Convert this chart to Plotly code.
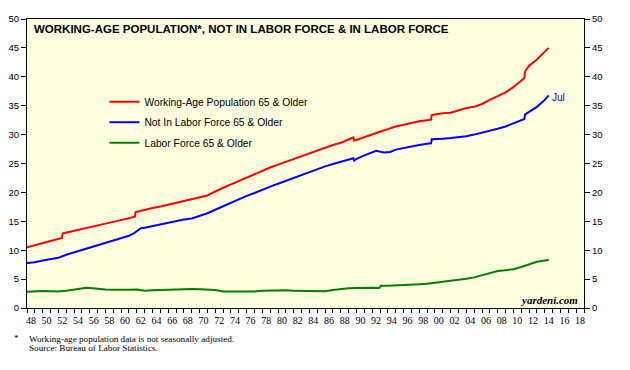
import plotly.graph_objects as go

# ---- data (millions) ----
red_x = [1948.0, 1949.0, 1950.0, 1951.0, 1952.0, 1952.45, 1952.55, 1953.0, 1954.0, 1955.0, 1956.0, 1957.0,
         1958.0, 1959.0, 1960.0, 1961.0, 1961.75, 1961.85, 1963.0, 1964.0, 1965.0, 1966.0, 1967.0, 1968.0,
         1969.0, 1970.0, 1971.0, 1971.3, 1972.0, 1973.0, 1974.0, 1975.0, 1976.0, 1977.0, 1978.0, 1979.0,
         1980.0, 1981.0, 1982.0, 1983.0, 1984.0, 1985.0, 1986.0, 1987.0, 1988.0, 1989.0, 1989.6, 1989.7,
         1990.0, 1991.0, 1992.0, 1993.0, 1994.0, 1995.0, 1996.0, 1997.0, 1998.0, 1999.0, 1999.5, 1999.6,
         2000.0, 2001.0, 2002.0, 2003.0, 2004.0, 2005.0, 2006.0, 2007.0, 2008.0, 2009.0, 2010.0, 2011.0,
         2011.4, 2011.5, 2012.0, 2013.0, 2014.0, 2014.5]
red_y = [10.5, 10.85, 11.2, 11.55, 11.9, 12.1, 12.9, 13.05, 13.35, 13.65, 14.0, 14.3,
         14.6, 14.9, 15.25, 15.55, 15.8, 16.6, 17.0, 17.3, 17.55, 17.85, 18.15, 18.45,
         18.75, 19.1, 19.45, 19.7, 20.2, 20.8, 21.4, 22.0, 22.5, 23.1, 23.7, 24.3,
         24.8, 25.3, 25.8, 26.3, 26.8, 27.2, 27.7, 28.2, 28.6, 29.2, 29.5, 28.95,
         29.1, 29.5, 30.0, 30.5, 30.95, 31.4, 31.7, 32.05, 32.3, 32.5, 32.6, 33.4,
         33.5, 33.7, 33.8, 34.2, 34.6, 34.8, 35.3, 36.0, 36.7, 37.3, 38.2, 39.3,
         39.8, 41.0, 41.9, 43.0, 44.4, 45.0]

blue_x = [1948.0, 1949.0, 1950.0, 1951.0, 1952.0, 1953.0, 1954.0, 1955.0, 1956.0, 1957.0, 1958.0, 1959.0,
          1960.0, 1961.0, 1961.6, 1962.5, 1963.0, 1964.0, 1965.0, 1966.0, 1967.0, 1968.0, 1969.0, 1970.0,
          1971.0, 1972.0, 1973.0, 1974.0, 1975.0, 1976.0, 1977.0, 1978.0, 1979.0, 1980.0, 1981.0, 1982.0,
          1983.0, 1984.0, 1985.0, 1986.0, 1987.0, 1988.0, 1989.0, 1989.6, 1989.7, 1990.0, 1991.0, 1992.0,
          1992.5, 1993.5, 1994.3, 1995.0, 1996.0, 1997.0, 1998.0, 1999.0, 1999.5, 1999.6, 2000.0, 2001.0,
          2002.0, 2003.0, 2004.0, 2005.0, 2006.0, 2007.0, 2008.0, 2009.0, 2010.0, 2011.0, 2011.4, 2011.5,
          2012.0, 2013.0, 2014.0, 2014.5]
blue_y = [7.8, 7.9, 8.2, 8.5, 8.7, 9.2, 9.6, 10.0, 10.5, 10.9, 11.3, 11.6,
          12.0, 12.5, 12.9, 13.8, 13.9, 14.2, 14.5, 14.8, 15.1, 15.3, 15.5, 15.9,
          16.4, 17.0, 17.6, 18.3, 18.9, 19.4, 19.9, 20.5, 21.0, 21.5, 22.0, 22.6,
          23.1, 23.6, 24.0, 24.5, 24.9, 25.3, 25.7, 25.9, 25.5, 25.8, 26.4, 26.9,
          27.2, 26.9, 27.0, 27.4, 27.7, 28.0, 28.2, 28.4, 28.5, 29.2, 29.2, 29.3,
          29.4, 29.5, 29.7, 30.0, 30.3, 30.6, 31.0, 31.4, 31.9, 32.4, 32.7, 33.5,
          33.9, 34.8, 36.0, 36.8]

green_x = [1948.0, 1949.0, 1950.0, 1951.0, 1952.0, 1953.0, 1954.0, 1955.0, 1955.6, 1956.0, 1957.0, 1958.0,
           1959.0, 1960.0, 1961.0, 1962.0, 1963.0, 1964.0, 1965.0, 1966.0, 1967.0, 1968.0, 1969.0, 1970.0,
           1971.0, 1972.0, 1973.0, 1974.0, 1975.0, 1976.0, 1977.0, 1978.0, 1979.0, 1980.0, 1981.0, 1982.0,
           1983.0, 1984.0, 1985.0, 1986.0, 1987.0, 1988.0, 1989.0, 1990.0, 1991.0, 1992.0, 1992.9, 1993.1,
           1994.0, 1995.0, 1996.0, 1997.0, 1998.0, 1999.0, 2000.0, 2001.0, 2002.0, 2003.0, 2004.0, 2005.0,
           2006.0, 2007.0, 2008.0, 2009.0, 2010.0, 2011.0, 2012.0, 2013.0, 2014.0, 2014.5]
green_y = [2.8, 2.9, 2.95, 2.9, 2.85, 3.0, 3.2, 3.35, 3.5, 3.45, 3.3, 3.2,
           3.15, 3.1, 3.15, 3.2, 3.0, 3.05, 3.1, 3.15, 3.2, 3.3, 3.3, 3.25,
           3.2, 3.1, 2.85, 2.85, 2.8, 2.8, 2.85, 3.0, 3.05, 3.05, 3.05, 3.0,
           2.95, 2.9, 2.85, 2.9, 3.1, 3.3, 3.4, 3.45, 3.5, 3.5, 3.45, 3.85,
           3.85, 3.9, 3.9, 4.0, 4.1, 4.2, 4.35, 4.5, 4.65, 4.85, 5.05, 5.3,
           5.65, 6.1, 6.4, 6.55, 6.7, 7.1, 7.6, 8.0, 8.2, 8.3]

series_names = ["Working-Age Population 65 & Older", "Not In Labor Force 65 & Older", "Labor Force 65 & Older"]
year_labels = ["48", "50", "52", "54", "56", "58", "60", "62", "64", "66", "68", "70", "72", "74", "76",
               "78", "80", "82", "84", "86", "88", "90", "92", "94", "96", "98", "00", "02", "04", "06",
               "08", "10", "12", "14", "16", "18"]
label_years = list(range(1948, 2019, 2))
y_ticks = [0, 5, 10, 15, 20, 25, 30, 35, 40, 45, 50]

SANS = "Liberation Sans, Arial, sans-serif"
SERIF = "Liberation Serif, Times New Roman, serif"

fig = go.Figure()
for nm, xs, ys, col in [(series_names[0], red_x, red_y, "#FF0000"),
                        (series_names[1], blue_x, blue_y, "#0000FF"),
                        (series_names[2], green_x, green_y, "#008000")]:
    fig.add_trace(go.Scatter(x=xs, y=ys, mode="lines", name=nm, legendgroup=nm,
                             line=dict(color=col, width=2), hoverinfo="skip"))
# invisible trace for right axis
fig.add_trace(go.Scatter(x=[1948], y=[0], yaxis="y2", mode="markers", marker=dict(opacity=0),
                         showlegend=False, hoverinfo="skip"))

axis_common = dict(showline=True, linecolor="black", linewidth=1, showgrid=False, zeroline=False,
                   automargin=False)
fig.update_layout(
    width=622, height=362, autosize=False,
    margin=dict(l=19, r=46, t=11, b=62),
    paper_bgcolor="white", plot_bgcolor="#FFFFE0",
    xaxis=dict(range=[1948, 2019], tickmode="array", tickvals=[y + 0.5 for y in label_years],
               ticktext=year_labels, ticks="", mirror=True, ticklabelstandoff=3,
               tickfont=dict(family=SERIF, size=10, color="black"),
               minor=dict(tickmode="linear", tick0=1948, dtick=1, ticks="outside", ticklen=4,
                          tickcolor="black", showgrid=False),
               **axis_common),
    yaxis=dict(range=[0, 50], tickmode="array", tickvals=y_ticks, ticks="outside", ticklen=5,
               tickcolor="black", mirror=False,
               tickfont=dict(family=SANS, size=9.5, color="black"), **axis_common),
    yaxis2=dict(range=[0, 50], overlaying="y", side="right", tickmode="array", tickvals=y_ticks,
                ticks="outside", ticklen=5, tickcolor="black",
                tickfont=dict(family=SANS, size=9.5, color="black"), **axis_common),
    legend=dict(x=0.139, y=0.764, xanchor="left", yanchor="top", bgcolor="rgba(0,0,0,0)",
                font=dict(family=SANS, size=10.3, color="black"), tracegroupgap=1.5,
                itemwidth=30),
    showlegend=True,
)

fig.add_annotation(text="<b>WORKING-AGE POPULATION*, NOT IN LABOR FORCE & IN LABOR FORCE</b>",
                   xref="paper", yref="paper", x=0.0085, y=0.967, xanchor="left", yanchor="middle",
                   showarrow=False, font=dict(family=SANS, size=11.5, color="black"))
fig.add_annotation(text="Jul", x=2014.7, y=36.5, xanchor="left", yanchor="middle", showarrow=False,
                   font=dict(family=SANS, size=10, color="#0000FF"))
fig.add_annotation(text="<b><i>yardeni.com</i></b>", xref="paper", yref="paper", x=0.992, y=0.028,
                   xanchor="right", yanchor="middle", showarrow=False,
                   font=dict(family=SERIF, size=11, color="black"))
fig.add_annotation(text="*", xref="paper", yref="paper", x=-0.019, y=-0.104, xanchor="center",
                   yanchor="middle", showarrow=False, font=dict(family=SERIF, size=9, color="black"))
fig.add_annotation(text="Working-age population data is not seasonally adjusted.", xref="paper", yref="paper",
                   x=0.0, y=-0.106, xanchor="left", yanchor="middle", showarrow=False,
                   font=dict(family=SERIF, size=9.2, color="black"))
fig.add_annotation(text="Source: Bureau of Labor Statistics.", xref="paper", yref="paper",
                   x=0.0, y=-0.14, xanchor="left", yanchor="middle", showarrow=False,
                   font=dict(family=SERIF, size=9.2, color="black"))

fig.write_html("out.html")
